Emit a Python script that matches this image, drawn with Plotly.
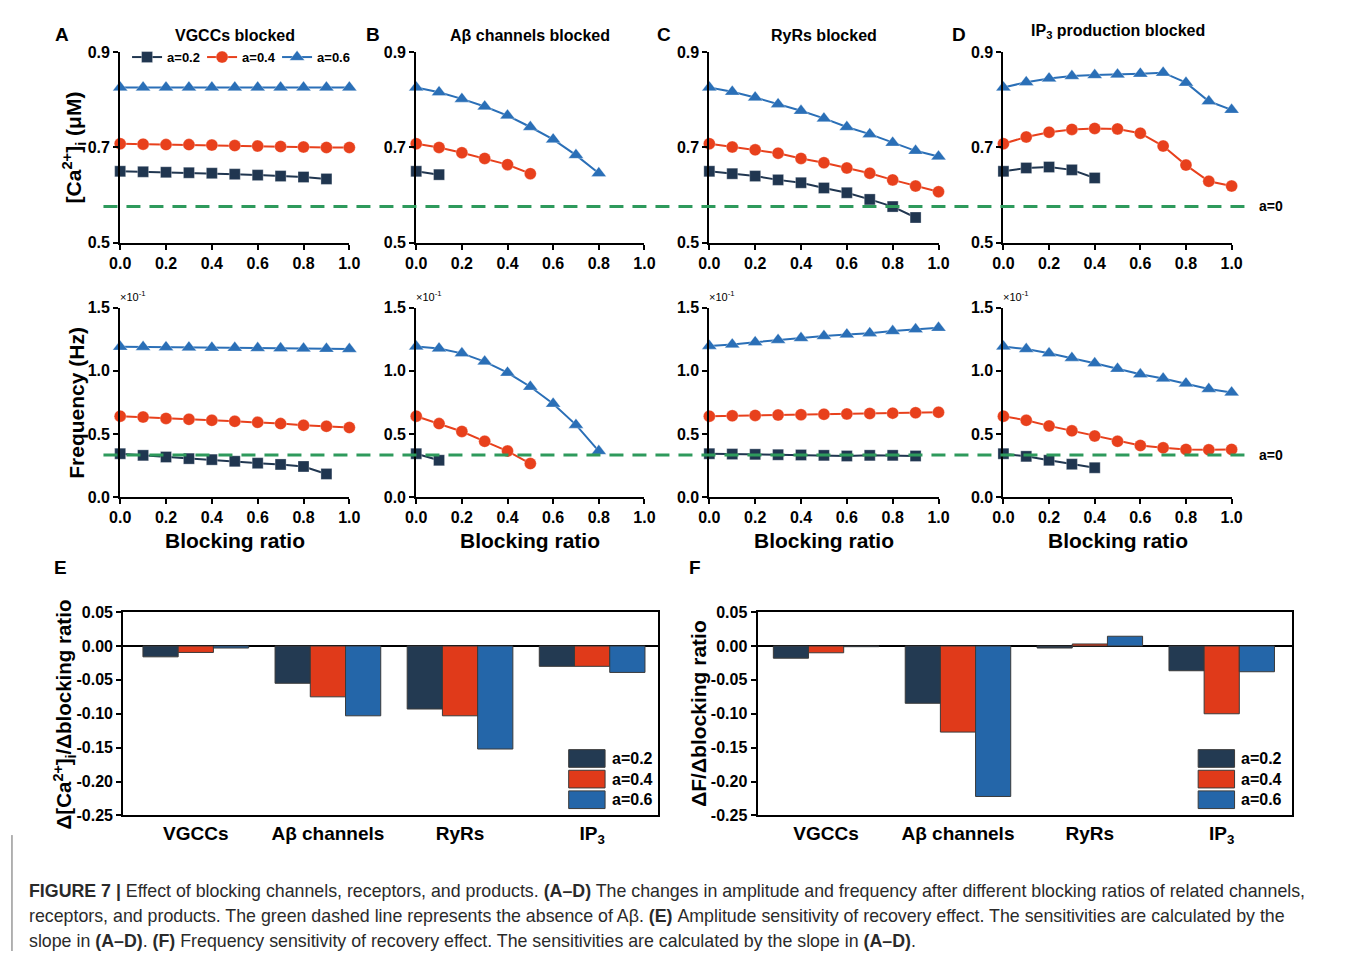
import plotly.graph_objects as go

# page is rendered inside the default 8px body margin
OFF = 8
PAGE_W, PAGE_H = 1355, 976
W, H = PAGE_W - 2 * OFF, PAGE_H - 2 * OFF

# ---------------- data ----------------
ratio = [0.0, 0.1, 0.2, 0.3, 0.4, 0.5, 0.6, 0.7, 0.8, 0.9, 1.0]
levels = ["a=0.2", "a=0.4", "a=0.6"]

# [Ca2+]i amplitude (uM) vs blocking ratio
ca_vgcc_02 = [0.650, 0.649, 0.648, 0.647, 0.646, 0.644, 0.642, 0.640, 0.638, 0.634]
ca_vgcc_04 = [0.708, 0.707, 0.706, 0.706, 0.705, 0.704, 0.703, 0.702, 0.701, 0.700, 0.700]
ca_vgcc_06 = [0.826, 0.826, 0.826, 0.826, 0.826, 0.826, 0.826, 0.826, 0.826, 0.826, 0.826]

ca_abeta_02 = [0.650, 0.643]
ca_abeta_04 = [0.708, 0.700, 0.689, 0.677, 0.664, 0.645]
ca_abeta_06 = [0.826, 0.816, 0.802, 0.786, 0.767, 0.743, 0.717, 0.684, 0.646]

ca_ryr_02 = [0.650, 0.645, 0.640, 0.632, 0.626, 0.615, 0.605, 0.591, 0.576, 0.553]
ca_ryr_04 = [0.708, 0.701, 0.695, 0.688, 0.677, 0.668, 0.657, 0.646, 0.632, 0.619, 0.607]
ca_ryr_06 = [0.826, 0.817, 0.805, 0.791, 0.777, 0.761, 0.743, 0.728, 0.710, 0.693, 0.681]

ca_ip3_02 = [0.650, 0.657, 0.659, 0.653, 0.636]
ca_ip3_04 = [0.708, 0.722, 0.732, 0.738, 0.740, 0.739, 0.730, 0.703, 0.663, 0.629, 0.619]
ca_ip3_06 = [0.826, 0.837, 0.845, 0.850, 0.852, 0.853, 0.855, 0.857, 0.836, 0.797, 0.779]

ca_no_abeta = 0.576

# oscillation frequency (x10^-1 Hz) vs blocking ratio
f_vgcc_02 = [0.344, 0.331, 0.318, 0.305, 0.297, 0.284, 0.269, 0.259, 0.243, 0.184]
f_vgcc_04 = [0.641, 0.634, 0.623, 0.616, 0.608, 0.600, 0.592, 0.582, 0.569, 0.561, 0.551]
f_vgcc_06 = [1.190, 1.189, 1.187, 1.185, 1.183, 1.182, 1.180, 1.178, 1.176, 1.174, 1.172]

f_abeta_02 = [0.344, 0.292]
f_abeta_04 = [0.641, 0.582, 0.520, 0.442, 0.365, 0.266]
f_abeta_06 = [1.192, 1.177, 1.138, 1.073, 0.985, 0.874, 0.740, 0.572, 0.365]

f_ryr_02 = [0.344, 0.341, 0.339, 0.336, 0.334, 0.331, 0.326, 0.331, 0.331, 0.326]
f_ryr_04 = [0.641, 0.644, 0.647, 0.650, 0.653, 0.656, 0.659, 0.662, 0.665, 0.668, 0.672]
f_ryr_06 = [1.197, 1.208, 1.226, 1.244, 1.259, 1.275, 1.288, 1.298, 1.314, 1.329, 1.340]

f_ip3_02 = [0.344, 0.323, 0.292, 0.261, 0.233]
f_ip3_04 = [0.641, 0.608, 0.564, 0.525, 0.484, 0.442, 0.409, 0.391, 0.378, 0.375, 0.378]
f_ip3_06 = [1.192, 1.172, 1.138, 1.102, 1.060, 1.016, 0.972, 0.939, 0.900, 0.856, 0.828]

f_no_abeta = 0.333

# sensitivities (slopes)
targets = ["VGCCs", "Aβ channels", "RyRs", "IP<sub>3</sub>"]
dca_02 = [-0.016, -0.055, -0.093, -0.030]
dca_04 = [-0.0095, -0.075, -0.103, -0.030]
dca_06 = [-0.003, -0.103, -0.152, -0.039]
df_02 = [-0.018, -0.0845, -0.003, -0.0365]
df_04 = [-0.010, -0.127, 0.003, -0.100]
df_06 = [-0.001, -0.222, 0.0144, -0.038]

ratio_ticks = [0.0, 0.2, 0.4, 0.6, 0.8, 1.0]
ratio_ticktext = ["0.0", "0.2", "0.4", "0.6", "0.8", "1.0"]
ca_ticks = [0.5, 0.7, 0.9]
ca_ticktext = ["0.5", "0.7", "0.9"]
f_ticks = [0.0, 0.5, 1.0, 1.5]
f_ticktext = ["0.0", "0.5", "1.0", "1.5"]
sens_ticks = [0.05, 0.0, -0.05, -0.10, -0.15, -0.20, -0.25]
sens_ticktext = ["0.05", "0.00", "-0.05", "-0.10", "-0.15", "-0.20", "-0.25"]

panel_titles = ["VGCCs blocked", "Aβ channels blocked", "RyRs blocked",
                "IP<sub>3</sub> production blocked"]

# ---------------- style ----------------
FONT = "Liberation Sans, Arial, Helvetica, sans-serif"
C_DARK = "#203650"
C_RED = "#e8401c"
C_BLUE = "#2a6fb7"
B_DARK = "#233a52"
B_RED = "#e03a1a"
B_BLUE = "#2466a9"
GREEN = "#2e9a5c"
colors = [C_DARK, C_RED, C_BLUE]
bar_colors = [B_DARK, B_RED, B_BLUE]
symbols = ["square", "circle", "triangle-up"]
msizes = [11, 12, 13]


# helpers: page pixel positions -> paper fractions
def px(x):
    return (x - OFF) / W


def py(y):
    return 1 - (y - OFF) / H


def xd(a, b):
    return [px(a), px(b)]


def yd(top, bottom):
    return [py(bottom), py(top)]


col_px = [(119, 352), (420, 652), (718, 951), (1017, 1249)]
top_px = (53, 247)
bot_px = (313, 506)

fig = go.Figure()
layout_axes = {}

tickfont = dict(family=FONT, size=16, color="black", weight="bold")


def line_axis(domain, anchor, rng, tv, tt):
    return dict(domain=domain, anchor=anchor, range=rng, tickvals=tv, ticktext=tt,
                showline=True, linecolor="black", linewidth=2, ticks="outside",
                ticklen=5, tickwidth=2, tickcolor="black", showgrid=False,
                zeroline=False, tickfont=tickfont, fixedrange=True)


amp_sets = [
    [ca_vgcc_02, ca_vgcc_04, ca_vgcc_06],
    [ca_abeta_02, ca_abeta_04, ca_abeta_06],
    [ca_ryr_02, ca_ryr_04, ca_ryr_06],
    [ca_ip3_02, ca_ip3_04, ca_ip3_06],
]
freq_sets = [
    [f_vgcc_02, f_vgcc_04, f_vgcc_06],
    [f_abeta_02, f_abeta_04, f_abeta_06],
    [f_ryr_02, f_ryr_04, f_ryr_06],
    [f_ip3_02, f_ip3_04, f_ip3_06],
]

for row, (sets, ypix, yrng, ytv, ytt) in enumerate([
        (amp_sets, top_px, [0.5, 0.9], ca_ticks, ca_ticktext),
        (freq_sets, bot_px, [0.0, 1.5], f_ticks, f_ticktext)]):
    for c in range(4):
        n = row * 4 + c + 1
        xname = "xaxis" if n == 1 else f"xaxis{n}"
        yname = "yaxis" if n == 1 else f"yaxis{n}"
        xr = "x" if n == 1 else f"x{n}"
        yr = "y" if n == 1 else f"y{n}"
        layout_axes[xname] = line_axis(xd(*col_px[c]), yr, [0, 1], ratio_ticks, ratio_ticktext)
        layout_axes[yname] = line_axis(yd(*ypix), xr, yrng, ytv, ytt)
        for k in range(3):
            vals = sets[c][k]
            fig.add_trace(go.Scatter(
                x=ratio[:len(vals)], y=vals, xaxis=xr, yaxis=yr,
                mode="lines+markers", name=levels[k], legendgroup=levels[k],
                showlegend=(n == 1), cliponaxis=False,
                line=dict(color=colors[k], width=2),
                marker=dict(symbol=symbols[k], size=msizes[k], color=colors[k],
                            line=dict(color="rgba(255,255,255,0.5)", width=0.6)),
            ))

# ---------------- bar panels ----------------
bar_px = [((122, 666), "x9", "y9", [-0.55, 3.5], [dca_02, dca_04, dca_06]),
          ((767, 1310), "x10", "y10", [-0.52, 3.53], [df_02, df_04, df_06])]
for (xp, xr, yr, xrng, series) in bar_px:
    n = xr[1:]
    layout_axes[f"xaxis{n}"] = dict(
        domain=xd(*xp), anchor=yr, type="category", range=xrng,
        showline=True, mirror=True, linecolor="black", linewidth=2, ticks="",
        showgrid=False, zeroline=False, fixedrange=True,
        tickfont=dict(family=FONT, size=19, color="black", weight="bold"))
    layout_axes[f"yaxis{n}"] = dict(
        domain=yd(623, 830), anchor=xr, range=[-0.25, 0.05],
        tickvals=sens_ticks, ticktext=sens_ticktext,
        showline=True, mirror=True, linecolor="black", linewidth=2,
        ticks="outside", ticklen=5, tickwidth=2, tickcolor="black",
        showgrid=False, zeroline=True, zerolinecolor="black", zerolinewidth=2,
        fixedrange=True,
        tickfont=dict(family=FONT, size=16, color="black", weight="bold"))
    for k in range(3):
        fig.add_trace(go.Bar(
            x=targets, y=series[k], xaxis=xr, yaxis=yr, name=levels[k],
            showlegend=False,
            marker=dict(color=bar_colors[k], line=dict(color="#3a3a3a", width=1)),
        ))

annotations = []
shapes = []


def label(x, y, text, size, bold=True, xanchor="center", yanchor="middle",
          angle=0, color="black", family=FONT):
    annotations.append(dict(
        x=px(x), y=py(y), xref="paper", yref="paper", text=text, showarrow=False,
        xanchor=xanchor, yanchor=yanchor, textangle=angle,
        font=dict(family=family, size=size, color=color,
                  weight="bold" if bold else "normal")))


# panel letters and titles
for letter, (lx, ly) in zip("ABCD", [(60, 35), (376, 35), (672, 35), (972, 35)]):
    label(lx, ly, letter, 19)
label(58, 578, "E", 19)
label(703, 578, "F", 19)
for c, (t, ty) in enumerate(zip(panel_titles, [36, 36, 36, 32])):
    label((col_px[c][0] + col_px[c][1]) / 2, ty, t, 16)

# axis titles
label(72, 150, "[Ca<sup>2+</sup>]<sub>i</sub> (μM)", 21, angle=-90)
label(75, 410, "Frequency (Hz)", 21, angle=-90)
for c in range(4):
    label((col_px[c][0] + col_px[c][1]) / 2, 550, "Blocking ratio", 21)
    label(col_px[c][0] - 2, 301, "×10<sup>-1</sup>", 11, bold=False, xanchor="left")
label(62, 727, "Δ[Ca<sup>2+</sup>]<sub>i</sub>/Δblocking ratio", 20.5, angle=-90)
label(707, 726, "ΔF/Δblocking ratio", 21, angle=-90)

# no-Aβ reference lines
for yr, val, ylab in [("y", ca_no_abeta, 210), ("y5", f_no_abeta, 463)]:
    shapes.append(dict(type="line", xref="paper", yref=yr, x0=px(102), x1=px(1265),
                       y0=val, y1=val, line=dict(color=GREEN, width=3, dash="14px,9px")))
    label(1275, ylab, "a=0", 14, xanchor="left")

# bar legends
for x0 in (575, 1215):
    for k, (top, bot) in enumerate([(763, 781), (784, 802), (805, 823)]):
        shapes.append(dict(type="rect", xref="paper", yref="paper",
                           x0=px(x0), x1=px(x0 + 37), y0=py(bot), y1=py(top),
                           fillcolor=bar_colors[k], line=dict(color="#3a3a3a", width=1)))
        label(x0 + 42, (top + bot) / 2, levels[k], 16, xanchor="left")

# caption
cap = [
    "<b>FIGURE 7 |</b> Effect of blocking channels, receptors, and products. <b>(A–D)</b> "
    "The changes in amplitude and frequency after different blocking ratios of related channels,",
    "receptors, and products. The green dashed line represents the absence of Aβ. <b>(E)</b> "
    "Amplitude sensitivity of recovery effect. The sensitivities are calculated by the",
    "slope in <b>(A–D)</b>. <b>(F)</b> Frequency sensitivity of recovery effect. "
    "The sensitivities are calculated by the slope in <b>(A–D)</b>.",
]
for i, line in enumerate(cap):
    label(24, 907 + 25.5 * i, line, 17.8, bold=False, xanchor="left", color="#2a2a2a")
shapes.append(dict(type="line", xref="paper", yref="paper", x0=px(9), x1=px(9),
                   y0=0, y1=py(850), line=dict(color="#666666", width=1)))

fig.update_layout(
    width=W, height=H, margin=dict(l=0, r=0, t=0, b=0),
    paper_bgcolor="white", plot_bgcolor="white",
    barmode="group", bargap=0.2, bargroupgap=0,
    font=dict(family=FONT, color="black"),
    showlegend=True,
    legend=dict(orientation="h", x=px(126), y=py(58), xanchor="left", yanchor="middle",
                bgcolor="rgba(0,0,0,0)", itemwidth=30, entrywidth=30,
                entrywidthmode="pixels", traceorder="normal",
                font=dict(family=FONT, size=13, color="black", weight="bold")),
    annotations=annotations, shapes=shapes,
    **layout_axes,
)

fig.write_html("out.html")
